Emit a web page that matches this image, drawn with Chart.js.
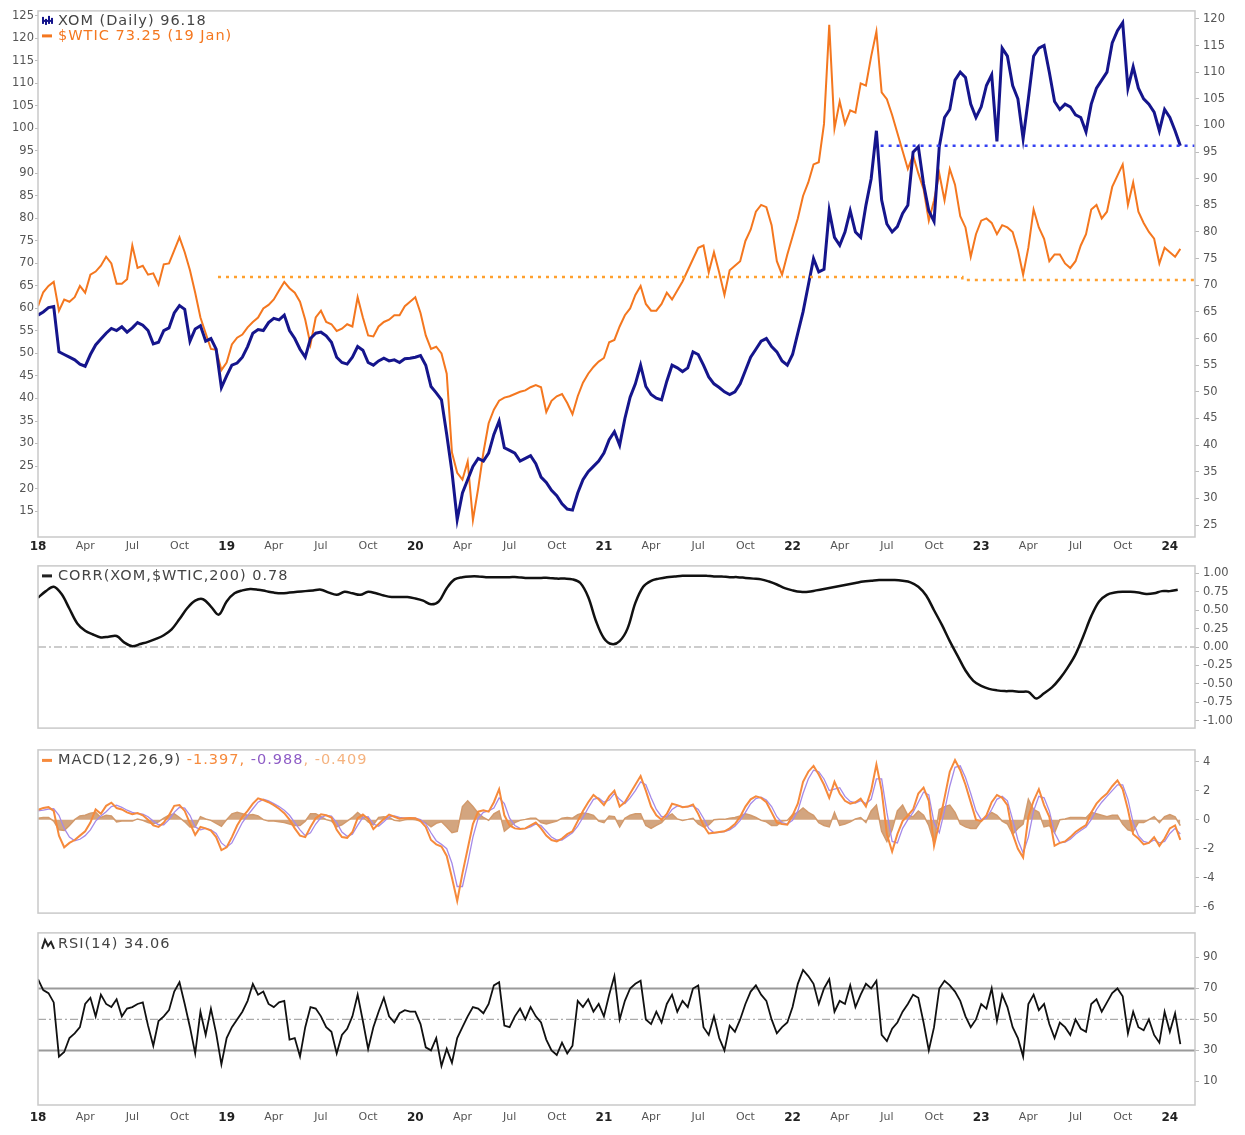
<!DOCTYPE html>
<html>
<head>
<meta charset="utf-8">
<title>XOM vs $WTIC</title>
<script src="https://cdn.jsdelivr.net/npm/chart.js@4.4.1/dist/chart.umd.min.js"></script>
<style>
  html, body { margin: 0; padding: 0; background: #fff; }
  #wrap { position: relative; width: 1245px; height: 1135px; overflow: hidden; }
  #wrap canvas { position: absolute; left: 0; display: block; }
</style>
</head>
<body>
<div id="wrap">
  <canvas id="priceChart" width="1245" height="557" style="top:0px"></canvas>
  <canvas id="corrChart" width="1245" height="184" style="top:555px"></canvas>
  <canvas id="macdChart" width="1245" height="185" style="top:739px"></canvas>
  <canvas id="rsiChart" width="1245" height="213" style="top:922px"></canvas>
</div>
<script>
// ---- data (x = months since Jan 2018) ----
const PRICE_STEP = 1 / 3;   // one reading roughly every 10 days
const CORR_STEP = 0.5;
const X_MAX = 73.6;

const xTickMonths = [0, 3, 6, 9, 12, 15, 18, 21, 24, 27, 30, 33, 36, 39, 42, 45, 48, 51, 54, 57, 60, 63, 66, 69, 72];
const xTickLabels = ['18', 'Apr', 'Jul', 'Oct', '19', 'Apr', 'Jul', 'Oct', '20', 'Apr', 'Jul', 'Oct',
  '21', 'Apr', 'Jul', 'Oct', '22', 'Apr', 'Jul', 'Oct', '23', 'Apr', 'Jul', 'Oct', '24'];

const wticTicks = [15, 20, 25, 30, 35, 40, 45, 50, 55, 60, 65, 70, 75, 80, 85, 90, 95, 100, 105, 110, 115, 120, 125];
const xomTicks = [25, 30, 35, 40, 45, 50, 55, 60, 65, 70, 75, 80, 85, 90, 95, 100, 105, 110, 115, 120];
const corrTicks = [1, 0.75, 0.5, 0.25, 0, -0.25, -0.5, -0.75, -1];
const macdTicks = [4, 2, 0, -2, -4, -6];
const rsiTicks = [90, 70, 50, 30, 10];

// XOM daily (right axis)
const xomClose = [
  64.4, 65.0, 65.8, 66.0, 57.5, 57.0, 56.5, 56.0, 55.2, 54.8, 57.0, 58.8, 59.9, 61.0, 61.9, 61.5, 62.2, 61.2, 62.0, 63.0, 62.5, 61.5, 59.0, 59.3, 61.5, 62.0, 64.8, 66.2, 65.5, 59.5, 61.8, 62.4, 59.5, 60.0, 58.0, 50.8,
  53.0, 55.0, 55.4, 56.5, 58.5, 61.0, 61.7, 61.5, 63.0, 63.8, 63.5, 64.4, 61.5, 60.0, 58.0, 56.5, 60.0, 61.0, 61.2, 60.5, 59.3, 56.5, 55.5, 55.2, 56.5, 58.5, 57.8, 55.5, 55.0, 55.8, 56.3, 55.8, 56.0, 55.5, 56.2, 56.3,
  56.5, 56.8, 55.0, 51.0, 49.8, 48.5, 42.0, 35.0, 26.0, 31.0, 33.5, 36.0, 37.5, 37.0, 38.5, 42.0, 44.5, 39.5, 39.0, 38.5, 37.0, 37.5, 38.0, 36.5, 34.0, 33.0, 31.5, 30.5, 29.0, 28.0, 27.8, 31.0, 33.5, 35.0, 36.0, 37.0,
  38.5, 41.0, 42.5, 40.0, 45.0, 49.0, 51.5, 55.0, 51.0, 49.5, 48.8, 48.5, 52.0, 55.0, 54.5, 53.8, 54.5, 57.5, 57.0, 55.0, 52.8, 51.5, 50.8, 50.0, 49.5, 50.0, 51.5, 54.0, 56.5, 58.0, 59.5, 60.0, 58.5, 57.5, 55.8, 55.0,
  57.0, 61.0, 65.0, 70.0, 75.0, 72.5, 73.0, 84.0, 79.0, 77.5, 80.0, 84.0, 80.0, 79.0, 85.0, 90.0, 99.0, 86.0, 81.5, 80.0, 81.0, 83.5, 85.0, 95.0, 96.0, 89.0, 84.0, 82.0, 96.0, 101.5, 103.0, 108.5, 110.0, 109.0, 104.0, 101.5,
  103.5, 107.5, 109.5, 97.0, 114.5, 113.0, 107.5, 105.0, 97.5, 105.0, 113.0, 114.5, 115.0, 110.0, 104.5, 103.0, 104.0, 103.5, 102.0, 101.5, 98.8, 104.0, 107.0, 108.5, 110.0, 115.5, 117.8, 119.3, 107.0, 111.0, 107.0, 105.0, 104.0, 102.5, 99.0, 103.0,
  101.5, 99.0, 96.2
];

// $WTIC (left axis)
const wticClose = [
  60.5, 63.6, 65.0, 65.9, 59.5, 62.0, 61.5, 62.5, 65.0, 63.5, 67.5, 68.2, 69.5, 71.5, 70.0, 65.5, 65.5, 66.5, 74.0, 69.0, 69.5, 67.5, 67.8, 65.3, 69.8, 70.0, 72.9, 75.8, 72.5, 68.5, 63.5, 58.0, 54.5, 51.0, 50.8, 46.3,
  48.0, 52.0, 53.5, 54.2, 55.8, 57.0, 58.0, 60.0, 60.8, 62.0, 64.0, 65.9, 64.5, 63.5, 61.5, 57.5, 52.0, 58.0, 59.5, 57.0, 56.5, 55.0, 55.5, 56.5, 56.0, 62.5, 58.0, 54.0, 53.8, 56.0, 57.0, 57.5, 58.5, 58.5, 60.5, 61.5,
  62.5, 59.0, 54.0, 51.0, 51.5, 50.0, 45.5, 28.0, 23.5, 22.0, 26.0, 13.0, 20.0, 28.0, 34.5, 37.5, 39.5, 40.2, 40.5, 41.0, 41.5, 41.8, 42.5, 43.0, 42.5, 37.0, 39.5, 40.5, 41.0, 39.0, 36.5, 40.5, 43.5, 45.5, 47.0, 48.2,
  49.0, 52.5, 53.0, 56.0, 58.5, 60.0, 63.0, 65.0, 61.0, 59.5, 59.5, 61.0, 63.5, 62.0, 64.0, 66.0, 68.5, 71.0, 73.5, 74.0, 68.0, 72.5, 68.0, 63.0, 68.5, 69.5, 70.5, 75.0, 77.5, 81.5, 83.0, 82.5, 78.5, 70.5, 67.5, 72.0,
  76.0, 80.0, 85.0, 88.0, 92.0, 92.5, 101.0, 123.0, 100.0, 106.0, 101.0, 104.0, 103.5, 110.0, 109.5, 116.0, 121.5, 108.0, 106.5, 103.0, 99.0, 95.0, 91.0, 94.0, 90.0, 86.5, 79.5, 84.0, 90.0, 84.0, 91.0, 87.5, 80.5, 78.0, 71.5, 76.5,
  79.5, 80.0, 79.0, 76.5, 78.5, 78.0, 77.0, 73.0, 67.5, 73.5, 82.0, 78.0, 75.5, 70.5, 72.0, 72.0, 70.0, 69.0, 70.5, 74.0, 76.5, 82.0, 83.0, 80.0, 81.5, 87.0, 89.5, 92.0, 83.0, 88.0, 81.5, 79.0, 77.0, 75.5, 70.0, 73.5,
  72.5, 71.5, 73.25
];

// drawn support lines: [month, price]
const xomSupport = [[53.6, 96.2], [73.6, 96.2]];
const wticSupport = [[11.45, 67.0], [58.8, 67.0], [58.8, 66.3], [73.6, 66.3]];

// CORR(XOM,$WTIC,200)
const corrValues = [
  0.67, 0.76, 0.82, 0.72, 0.52, 0.32, 0.22, 0.17, 0.13, 0.14, 0.15, 0.06,
  0.01, 0.04, 0.07, 0.11, 0.16, 0.24, 0.38, 0.53, 0.63, 0.65, 0.55, 0.44,
  0.62, 0.73, 0.77, 0.79, 0.78, 0.76, 0.74, 0.73, 0.74, 0.75, 0.76, 0.77,
  0.78, 0.74, 0.71, 0.75, 0.73, 0.71, 0.75, 0.73, 0.70, 0.68, 0.68, 0.68,
  0.66, 0.63, 0.58, 0.62, 0.80, 0.92, 0.95, 0.96, 0.96, 0.95, 0.95, 0.95,
  0.95, 0.95, 0.94, 0.94, 0.94, 0.94, 0.93, 0.93, 0.92, 0.87, 0.68, 0.35,
  0.12, 0.04, 0.08, 0.25, 0.60, 0.82, 0.90, 0.93, 0.95, 0.96, 0.97, 0.97,
  0.97, 0.97, 0.96, 0.96, 0.95, 0.95, 0.94, 0.93, 0.92, 0.89, 0.85, 0.80,
  0.77, 0.75, 0.75, 0.77, 0.79, 0.81, 0.83, 0.85, 0.87, 0.89, 0.90, 0.91,
  0.91, 0.91, 0.90, 0.88, 0.82, 0.70, 0.50, 0.30, 0.08, -0.12, -0.32, -0.46,
  -0.53, -0.57, -0.59, -0.60, -0.60, -0.61, -0.61, -0.70, -0.63, -0.55, -0.43, -0.28,
  -0.10, 0.15, 0.42, 0.62, 0.71, 0.74, 0.75, 0.75, 0.74, 0.72, 0.73, 0.76,
  0.76, 0.78
];

// MACD(12,26,9)
const macdLine = [
  0.67, 0.8, 0.86, 0.6, -1.1, -1.9, -1.6, -1.4, -1.1, -0.8, -0.2, 0.7, 0.4, 0.95, 1.17, 0.8, 0.7, 0.5, 0.37, 0.45, 0.3, 0.0, -0.4, -0.5, -0.2, 0.3, 0.95, 1.0, 0.6, -0.25, -1.05, -0.5, -0.6, -0.75, -1.2, -2.1,
  -1.9, -1.2, -0.4, 0.2, 0.6, 1.1, 1.47, 1.35, 1.2, 1.0, 0.75, 0.45, 0.0, -0.6, -1.1, -1.2, -0.5, 0.1, 0.37, 0.3, 0.15, -0.7, -1.2, -1.25, -0.85, 0.1, 0.35, 0.05, -0.65, -0.3, 0.05, 0.35, 0.2, 0.06, 0.1, 0.12,
  0.1, -0.1, -0.5, -1.4, -1.7, -1.85, -2.5, -4.0, -5.6, -3.7, -2.0, -0.3, 0.55, 0.65, 0.55, 1.2, 2.1, 0.3, -0.4, -0.6, -0.65, -0.6, -0.4, -0.2, -0.6, -1.1, -1.4, -1.5, -1.3, -1.0, -0.8, -0.1, 0.6, 1.2, 1.7, 1.4,
  1.0, 1.6, 2.0, 0.9, 1.2, 1.8, 2.4, 3.0, 2.0, 0.9, 0.3, 0.0, 0.4, 1.1, 1.0, 0.86, 0.9, 1.05, 0.4, -0.4, -0.95, -0.9, -0.85, -0.8, -0.6, -0.3, 0.2, 0.9, 1.4, 1.6, 1.5, 1.2, 0.5, -0.2, -0.3, -0.35,
  0.3, 1.1, 2.6, 3.3, 3.7, 3.1, 2.4, 1.5, 2.6, 1.8, 1.3, 1.1, 1.2, 1.45, 0.9, 2.0, 3.8, 2.0, -1.0, -2.2, -1.0, -0.1, 0.3, 0.7, 1.8, 2.2, 1.3, -1.8, -0.2, 1.5, 3.3, 4.1, 3.4, 2.4, 1.2, 0.0,
  -0.1, 0.3, 1.2, 1.7, 1.5, 1.0, -0.98, -2.0, -2.6, 0.2, 1.3, 2.1, 1.0, 0.2, -1.8, -1.6, -1.5, -1.2, -0.85, -0.6, -0.37, 0.5, 1.1, 1.5, 1.8, 2.3, 2.7, 2.1, 0.7, -1.0, -1.3, -1.7, -1.6, -1.2, -1.8, -1.3,
  -0.6, -0.4, -1.397
];
const macdSignal = [
  0.6, 0.65, 0.72, 0.75, 0.3, -0.6, -1.2, -1.45, -1.35, -1.1, -0.7, -0.1, 0.25, 0.55, 0.9, 1.0, 0.85, 0.65, 0.5, 0.42, 0.38, 0.2, -0.1, -0.35, -0.35, 0.0, 0.5, 0.85, 0.8, 0.3, -0.5, -0.7, -0.6, -0.7, -0.95, -1.6,
  -1.9, -1.6, -0.9, -0.2, 0.3, 0.75, 1.2, 1.4, 1.3, 1.1, 0.9, 0.65, 0.3, -0.2, -0.7, -1.1, -0.9, -0.3, 0.15, 0.3, 0.25, -0.2, -0.85, -1.15, -1.0, -0.4, 0.15, 0.2, -0.3, -0.45, -0.15, 0.2, 0.25, 0.15, 0.1, 0.1,
  0.1, 0.0, -0.3, -0.9, -1.45, -1.7, -2.0, -3.0, -4.6, -4.6, -3.0, -1.2, 0.1, 0.5, 0.6, 0.8, 1.5, 1.1, 0.1, -0.4, -0.6, -0.62, -0.5, -0.3, -0.4, -0.8, -1.2, -1.4, -1.4, -1.15, -0.9, -0.45, 0.15, 0.8, 1.4, 1.5,
  1.2, 1.35, 1.8, 1.4, 1.1, 1.5, 2.0, 2.6, 2.4, 1.5, 0.7, 0.2, 0.2, 0.7, 0.95, 0.9, 0.88, 0.95, 0.7, 0.1, -0.6, -0.9, -0.88, -0.82, -0.7, -0.45, -0.05, 0.5, 1.1, 1.45, 1.55, 1.35, 0.9, 0.2, -0.2, -0.3,
  -0.05, 0.6, 1.8, 2.8, 3.4, 3.3, 2.8, 2.0, 2.1, 2.2, 1.6, 1.25, 1.15, 1.3, 1.1, 1.4, 2.8, 2.8, 0.5, -1.5, -1.6, -0.6, 0.0, 0.5, 1.2, 1.9, 1.7, -0.2, -0.9, 0.6, 2.3, 3.6, 3.7, 2.9, 1.8, 0.6,
  0.0, 0.1, 0.7, 1.4, 1.6, 1.3, 0.0, -1.4, -2.3, -1.2, 0.6, 1.6, 1.5, 0.6, -0.9, -1.6, -1.55, -1.35, -1.0, -0.75, -0.5, 0.0, 0.7, 1.2, 1.6, 2.0, 2.4, 2.4, 1.4, -0.2, -1.1, -1.5, -1.6, -1.4, -1.6, -1.5,
  -0.95, -0.6, -0.988
];
const macdHist = [
  0.1, 0.15, 0.15, -0.1, -0.7, -0.75, -0.4, 0.0, 0.25, 0.3, 0.45, 0.5, 0.15, 0.3, 0.25, -0.15, -0.1, -0.1, -0.1, 0.05, -0.05, -0.2, -0.3, -0.15, 0.1, 0.3, 0.4, 0.15, -0.15, -0.5, -0.5, 0.2, 0.05, -0.05, -0.25, -0.45,
  0.0, 0.4, 0.5, 0.4, 0.3, 0.35, 0.25, 0.0, -0.1, -0.1, -0.15, -0.2, -0.3, -0.4, -0.4, -0.1, 0.4, 0.4, 0.2, 0.0, -0.1, -0.5, -0.35, -0.1, 0.15, 0.5, 0.2, -0.15, -0.35, 0.15, 0.2, 0.15, -0.05, -0.1, 0.0, 0.02,
  0.0, -0.1, -0.2, -0.5, -0.25, -0.15, -0.5, -0.9, -0.8, 0.9, 1.3, 0.9, 0.45, 0.15, -0.05, 0.4, 0.6, -0.8, -0.5, -0.2, -0.05, 0.02, 0.1, 0.1, -0.2, -0.3, -0.2, -0.1, 0.1, 0.15, 0.1, 0.35, 0.45, 0.4, 0.3, -0.1,
  -0.2, 0.25, 0.2, -0.5, 0.1, 0.3, 0.4, 0.4, -0.4, -0.6, -0.4, -0.2, 0.2, 0.4, 0.05, -0.05, 0.02, 0.1, -0.3, -0.5, -0.35, 0.0, 0.03, 0.02, 0.1, 0.15, 0.25, 0.4, 0.3, 0.15, -0.05, -0.15, -0.4, -0.4, -0.1, -0.05,
  0.35, 0.5, 0.8, 0.5, 0.3, -0.2, -0.4, -0.5, 0.5, -0.4, -0.3, -0.15, 0.05, 0.15, -0.2, 0.6, 1.0, -0.8, -1.5, -0.7, 0.6, 1.0, 0.3, 0.2, 0.6, 0.3, -0.4, -1.6, 0.7, 0.9, 1.0, 0.5, -0.3, -0.5, -0.6, -0.6,
  -0.1, 0.2, 0.5, 0.3, -0.1, -0.3, -1.0, -0.6, -0.3, 1.4, 0.7, 0.5, -0.5, -0.4, -0.9, 0.0, 0.05, 0.15, 0.15, 0.15, 0.13, 0.5, 0.4, 0.3, 0.2, 0.3, 0.3, -0.3, -0.7, -0.8, -0.2, -0.2, 0.0, 0.2, -0.2, 0.2,
  0.35, 0.2, -0.409
];

// RSI(14)
const rsiValues = [
  76, 69, 67, 61, 26, 29, 38, 41, 45, 60, 64, 52, 66, 60, 58, 63, 52, 57, 58, 60, 61, 46, 33, 49, 52, 56, 68, 74, 60, 45, 28, 55, 40, 57, 41, 21,
  38, 45, 50, 55, 62, 73, 66, 68, 60, 58, 61, 62, 37, 38, 26, 45, 58, 57, 52, 45, 42, 28, 40, 44, 52, 66, 49, 31, 45, 55, 64, 52, 48, 54, 56, 55,
  55, 47, 32, 30, 38, 20, 31, 22, 38, 45, 52, 58, 57, 54, 60, 72, 74, 46, 45, 52, 57, 50, 58, 52, 48, 37, 30, 27, 35, 28, 33, 62, 58, 63, 55, 60,
  52, 66, 78, 50, 62, 70, 73, 75, 50, 47, 55, 48, 60, 66, 55, 62, 58, 70, 72, 45, 40, 52, 38, 30, 46, 42, 50, 60, 68, 72, 66, 62, 50, 41, 45, 48,
  58, 73, 82, 78, 73, 60, 70, 76, 55, 62, 60, 72, 58, 66, 73, 70, 75, 40, 36, 44, 48, 55, 60, 66, 64, 48, 30, 45, 70, 75, 72, 68, 62, 52, 45, 50,
  60, 57, 70, 49, 66, 58, 45, 38, 26, 60, 66, 56, 60, 47, 38, 48, 45, 40, 50, 44, 42, 60, 63, 55, 61, 67, 70, 65, 41, 55, 45, 43, 50, 40, 35, 55,
  42, 54, 34.06
];
const rsiBands = [70, 30];
const rsiMid = [50];
const corrMid = [0];

// ---- helpers ----
const FONT = '"DejaVu Sans", Verdana, sans-serif';
const toPoints = (values, step) => values.map((v, i) => ({ x: i * step, y: v }));
const pairsToPoints = pairs => pairs.map(([x, y]) => ({ x, y }));

function xAxis(showLabels, height, pad) {
  return {
    type: 'linear', min: 0, max: X_MAX, display: showLabels,
    afterBuildTicks: s => { s.ticks = xTickMonths.map(v => ({ value: v })); },
    afterFit: s => { s.height = height; },
    grid: { display: false, drawTicks: false },
    border: { display: false },
    ticks: {
      padding: pad, autoSkip: false, maxRotation: 0,
      callback: (v, i) => xTickLabels[i],
      color: c => c.index % 4 === 0 ? '#222' : '#555',
      font: c => ({ family: FONT, size: c.index % 4 === 0 ? 12 : 11, weight: c.index % 4 === 0 ? 'bold' : 'normal' })
    }
  };
}

function yAxis(position, min, max, ticks, fmt) {
  return {
    type: 'linear', position, min, max,
    afterBuildTicks: s => { s.ticks = ticks.map(v => ({ value: v })); },
    afterFit: s => { s.width = position === 'left' ? 38 : 50; },
    grid: { drawOnChartArea: false, tickLength: position === 'left' ? 3 : 4, color: '#bbb' },
    border: { display: false },
    ticks: {
      padding: position === 'left' ? 1 : 4, color: '#555',
      font: { family: FONT, size: 11.5 },
      callback: fmt || (v => String(v))
    }
  };
}

// level lines, frame and panel legend
const panelPlugin = {
  id: 'panel',
  beforeDatasetsDraw(chart, args, opts) {
    const { ctx, chartArea: a } = chart;
    (opts.levels || []).forEach(l => {
      l.values.forEach(val => {
        const y = chart.scales[l.axis].getPixelForValue(val);
        ctx.save();
        ctx.strokeStyle = l.color;
        ctx.lineWidth = l.width;
        ctx.setLineDash(l.dash || []);
        ctx.beginPath();
        ctx.moveTo(a.left, y);
        ctx.lineTo(a.right, y);
        ctx.stroke();
        ctx.restore();
      });
    });
  },
  afterDraw(chart, args, opts) {
    const { ctx, chartArea: a } = chart;
    ctx.save();
    ctx.strokeStyle = '#c9c9c9';
    ctx.lineWidth = 1.5;
    ctx.strokeRect(a.left, a.top, a.right - a.left, a.bottom - a.top);

    (opts.rows || []).forEach(row => {
      const y = a.top + row.dy;
      const ix = a.left + 4;
      ctx.fillStyle = row.iconColor;
      ctx.strokeStyle = row.iconColor;
      if (row.icon === 'dash') {
        ctx.fillRect(ix, y - 1.5, 10, 3);
      } else if (row.icon === 'bars') {
        ctx.fillRect(ix, y - 4, 2, 7);
        ctx.fillRect(ix + 3, y - 2, 2, 6);
        ctx.fillRect(ix + 6, y - 5, 2, 8);
        ctx.fillRect(ix + 9, y - 3, 2, 6);
        ctx.fillRect(ix, y - 1, 11, 2);
      } else if (row.icon === 'mountain') {
        ctx.lineWidth = 2;
        ctx.beginPath();
        ctx.moveTo(ix, y + 5);
        ctx.lineTo(ix + 3, y - 4);
        ctx.lineTo(ix + 6, y + 2);
        ctx.lineTo(ix + 9, y - 2);
        ctx.lineTo(ix + 12, y + 5);
        ctx.stroke();
      }
      let x = a.left + 20;
      ctx.font = `14.5px ${FONT}`;
      ctx.letterSpacing = '1px';
      ctx.textBaseline = 'middle';
      row.parts.forEach(p => {
        ctx.fillStyle = p.color;
        ctx.fillText(p.text, x, y);
        x += ctx.measureText(p.text).width;
      });
    });
    ctx.restore();
  }
};

Chart.register(panelPlugin);

const common = {
  responsive: false,
  maintainAspectRatio: false,
  animation: false,
  devicePixelRatio: 1,
  events: []
};

function line(data, axis, color, width, extra) {
  return Object.assign({
    data, yAxisID: axis, borderColor: color, borderWidth: width,
    pointRadius: 0, tension: 0, fill: false
  }, extra || {});
}

// ---- price panel ----
new Chart(document.getElementById('priceChart'), {
  type: 'line',
  data: {
    datasets: [
      line(pairsToPoints(xomSupport), 'yXom', '#3441f2', 2.5, { borderDash: [3, 5] }),
      line(pairsToPoints(wticSupport), 'yWtic', '#ffa02e', 2.5, { borderDash: [3, 5] }),
      line(toPoints(xomClose, PRICE_STEP), 'yXom', '#15158c', 3),
      line(toPoints(wticClose, PRICE_STEP), 'yWtic', '#f4771f', 2)
    ]
  },
  options: Object.assign({}, common, {
    layout: { padding: { top: 10, left: 0, right: 0, bottom: 0 } },
    scales: {
      x: xAxis(true, 20, 3),
      yWtic: yAxis('left', 9.23, 126.11, wticTicks),
      yXom: yAxis('right', 22.75, 121.5, xomTicks)
    },
    plugins: {
      legend: { display: false },
      tooltip: { enabled: false },
      panel: {
        rows: [
          { dy: 10, icon: 'bars', iconColor: '#15158c', parts: [{ text: 'XOM (Daily) 96.18', color: '#444' }] },
          { dy: 25, icon: 'dash', iconColor: '#f4771f', parts: [{ text: '$WTIC 73.25 (19 Jan)', color: '#f4771f' }] }
        ]
      }
    }
  })
});

// ---- correlation panel ----
new Chart(document.getElementById('corrChart'), {
  type: 'line',
  data: {
    datasets: [line(toPoints(corrValues, CORR_STEP), 'y', '#111', 2.5, { tension: 0.35 })]
  },
  options: Object.assign({}, common, {
    layout: { padding: { top: 1, left: 38, right: 0, bottom: 1 } },
    scales: {
      x: xAxis(false, 0, 0),
      y: yAxis('right', -1.103, 1.103, corrTicks, v => v.toFixed(2))
    },
    plugins: {
      legend: { display: false },
      tooltip: { enabled: false },
      panel: {
        levels: [{ axis: 'y', values: corrMid, color: '#999', width: 1.2, dash: [8, 3, 2, 3] }],
        rows: [{ dy: 10, icon: 'dash', iconColor: '#222', parts: [{ text: 'CORR(XOM,$WTIC,200) 0.78', color: '#444' }] }]
      }
    }
  })
});

// ---- MACD panel ----
new Chart(document.getElementById('macdChart'), {
  type: 'line',
  data: {
    datasets: [
      line(toPoints(macdLine, PRICE_STEP), 'y', '#f68a3c', 2),
      line(toPoints(macdSignal, PRICE_STEP), 'y', '#a58ae8', 1.3),
      line(toPoints(macdHist, PRICE_STEP), 'y', '#d29a6c', 1.5, { fill: 'origin', backgroundColor: 'rgba(200,142,95,0.8)' })
    ]
  },
  options: Object.assign({}, common, {
    layout: { padding: { top: 1, left: 38, right: 0, bottom: 1 } },
    scales: {
      x: xAxis(false, 0, 0),
      y: yAxis('right', -6.43, 4.8, macdTicks)
    },
    plugins: {
      legend: { display: false },
      tooltip: { enabled: false },
      panel: {
        rows: [{
          dy: 10.5, icon: 'dash', iconColor: '#f68a3c', parts: [
            { text: 'MACD(12,26,9) ', color: '#444' },
            { text: '-1.397, ', color: '#f68a3c' },
            { text: '-0.988', color: '#8e5cc6' },
            { text: ', -0.409', color: '#f5b27e' }
          ]
        }]
      }
    }
  })
});

// ---- RSI panel ----
new Chart(document.getElementById('rsiChart'), {
  type: 'line',
  data: {
    datasets: [line(toPoints(rsiValues, PRICE_STEP), 'y', '#111', 1.8)]
  },
  options: Object.assign({}, common, {
    layout: { padding: { top: 1, left: 38, right: 0, bottom: 0 } },
    scales: {
      x: xAxis(true, 30, 6),
      y: yAxis('right', -5.27, 105.9, rsiTicks)
    },
    plugins: {
      legend: { display: false },
      tooltip: { enabled: false },
      panel: {
        levels: [
          { axis: 'y', values: rsiBands, color: '#9a9a9a', width: 2 },
          { axis: 'y', values: rsiMid, color: '#aaa', width: 1.2, dash: [8, 3, 2, 3] }
        ],
        rows: [{ dy: 11, icon: 'mountain', iconColor: '#222', parts: [{ text: 'RSI(14) 34.06', color: '#444' }] }]
      }
    }
  })
});
</script>
</body>
</html>
